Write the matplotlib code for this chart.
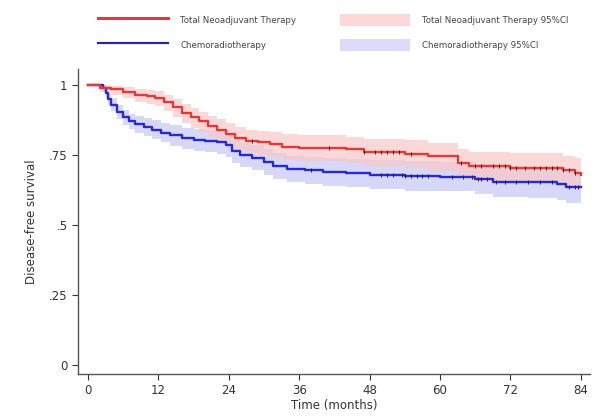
import numpy as np
import matplotlib
matplotlib.use("Agg")
import matplotlib.pyplot as plt
from matplotlib.lines import Line2D
from matplotlib.patches import Patch

# Total neoadjuvant therapy: step times, survival, 95% CI
tnt_time = [0, 2, 4, 6, 8, 10, 11.5, 13, 14.5, 16, 17.5, 19, 20.5, 22, 23.5, 25, 27, 29, 31, 33,
            36, 44, 47, 54, 58, 63, 65, 72, 81, 83, 84]
tnt_surv = [1.0, 0.99, 0.985, 0.975, 0.965, 0.96, 0.955, 0.94, 0.92, 0.90, 0.885, 0.87, 0.855, 0.84,
            0.825, 0.81, 0.80, 0.795, 0.79, 0.78, 0.775, 0.77, 0.76, 0.755, 0.745, 0.72, 0.71, 0.705,
            0.695, 0.685, 0.68]
tnt_lo = [1.0, 0.975, 0.965, 0.952, 0.94, 0.932, 0.925, 0.908, 0.887, 0.865, 0.848, 0.832, 0.815,
          0.799, 0.783, 0.767, 0.756, 0.75, 0.744, 0.733, 0.728, 0.722, 0.711, 0.705, 0.694, 0.668,
          0.657, 0.651, 0.64, 0.63, 0.625]
tnt_hi = [1.0, 1.0, 0.998, 0.992, 0.985, 0.982, 0.979, 0.966, 0.949, 0.931, 0.918, 0.905, 0.891,
          0.877, 0.863, 0.849, 0.841, 0.837, 0.833, 0.824, 0.82, 0.815, 0.806, 0.802, 0.793, 0.77,
          0.761, 0.757, 0.748, 0.74, 0.735]
tnt_cens = [28, 41, 47, 49, 50, 51, 52, 53, 55, 63.5, 66, 67, 69, 70, 71, 72, 73, 74.5, 76, 77,
            78, 79, 80, 81, 82, 83]

# Chemoradiotherapy
crt_time = [0, 2.5, 3, 3.5, 4, 5, 6, 7, 8, 9.5, 11, 12.5, 14, 16, 18, 20, 22, 23.5, 24.5, 26, 28,
            30, 31.5, 34, 37, 40, 44, 48, 54, 60, 66, 69, 75, 80, 81.5, 84]
crt_surv = [1.0, 0.99, 0.97, 0.95, 0.93, 0.905, 0.885, 0.87, 0.86, 0.85, 0.84, 0.83, 0.82, 0.81,
            0.805, 0.80, 0.795, 0.785, 0.765, 0.75, 0.74, 0.725, 0.71, 0.70, 0.695, 0.69, 0.685,
            0.68, 0.675, 0.672, 0.665, 0.655, 0.652, 0.645, 0.635, 0.635]
crt_lo = [1.0, 0.975, 0.952, 0.93, 0.907, 0.88, 0.858, 0.842, 0.83, 0.818, 0.806, 0.795, 0.783,
          0.772, 0.766, 0.76, 0.754, 0.743, 0.722, 0.706, 0.695, 0.679, 0.663, 0.652, 0.646, 0.64,
          0.634, 0.629, 0.623, 0.62, 0.612, 0.601, 0.598, 0.59, 0.58, 0.578]
crt_hi = [1.0, 1.0, 0.988, 0.97, 0.953, 0.93, 0.912, 0.898, 0.89, 0.882, 0.874, 0.865, 0.857,
          0.848, 0.844, 0.84, 0.836, 0.827, 0.808, 0.794, 0.785, 0.771, 0.757, 0.748, 0.744, 0.74,
          0.736, 0.731, 0.727, 0.724, 0.718, 0.709, 0.706, 0.7, 0.69, 0.69]
crt_cens = [38, 50, 51, 52, 53.5, 54, 55, 56, 57, 58, 62, 64, 65.5, 66.5, 67, 68, 69.5, 71, 73,
            75, 77, 79, 82, 83, 83.5]

x_ticks = [0, 12, 24, 36, 48, 60, 72, 84]
y_ticks = [0, 0.25, 0.5, 0.75, 1]
y_labels = ["0", ".25", ".5", ".75", "1"]

red = "#e03a3a"
blue = "#2a2acc"
red_ci = "#f9c8c8"
blue_ci = "#d0d0f7"

fig = plt.figure(figsize=(5.95, 4.16), dpi=100)
ax = fig.add_axes([0.131, 0.101, 0.86, 0.733])


def surv_at(times, surv, t):
    idx = np.searchsorted(times, t, side="right") - 1
    return np.asarray(surv)[idx]


ax.fill_between(crt_time, crt_lo, crt_hi, step="post", color=blue_ci, alpha=0.85, lw=0)
ax.fill_between(tnt_time, tnt_lo, tnt_hi, step="post", color=red_ci, alpha=0.7, lw=0)
ax.step(crt_time, crt_surv, where="post", color=blue, lw=1.7)
ax.step(tnt_time, tnt_surv, where="post", color=red, lw=1.7)

ax.plot(crt_cens, surv_at(crt_time, crt_surv, crt_cens), ls="none", marker="|",
        color="#222244", ms=3.5, mew=0.7)
ax.plot(tnt_cens, surv_at(tnt_time, tnt_surv, tnt_cens), ls="none", marker="|",
        color="#442222", ms=3.5, mew=0.7)

ax.set_xlim(-1.7, 85.5)
ax.set_ylim(-0.032, 1.057)
ax.set_xticks(x_ticks)
ax.set_yticks(y_ticks)
ax.set_yticklabels(y_labels)
ax.tick_params(colors="#333333", labelsize=8.5, length=4, width=0.8, direction="out")
for side in ["top", "right"]:
    ax.spines[side].set_visible(False)
for side in ["left", "bottom"]:
    ax.spines[side].set_color("#555555")
    ax.spines[side].set_linewidth(1.0)

ax.set_xlabel("Time (months)", fontsize=8.5, color="#333333", labelpad=1)
ax.set_ylabel("Disease-free survival", fontsize=8.5, color="#333333", labelpad=8)

handles = [
    Line2D([], [], color=red, lw=2.2),
    Line2D([], [], color="#2a2a90", lw=1.6),
    Patch(facecolor="#fcd8d8", edgecolor="none"),
    Patch(facecolor="#dcdcfa", edgecolor="none"),
]
labels = [
    "Total Neoadjuvant Therapy",
    "Chemoradiotherapy",
    "Total Neoadjuvant Therapy 95%CI",
    "Chemoradiotherapy 95%CI",
]
fig.legend(handles, labels, ncol=2, loc="center", bbox_to_anchor=(0.56, 0.922),
           frameon=False, fontsize=6.2, handlelength=8.15, handleheight=1.75,
           columnspacing=5.1, labelspacing=1.5, handletextpad=1.4, labelcolor="#444444")

fig.savefig("out.png", dpi=100)
